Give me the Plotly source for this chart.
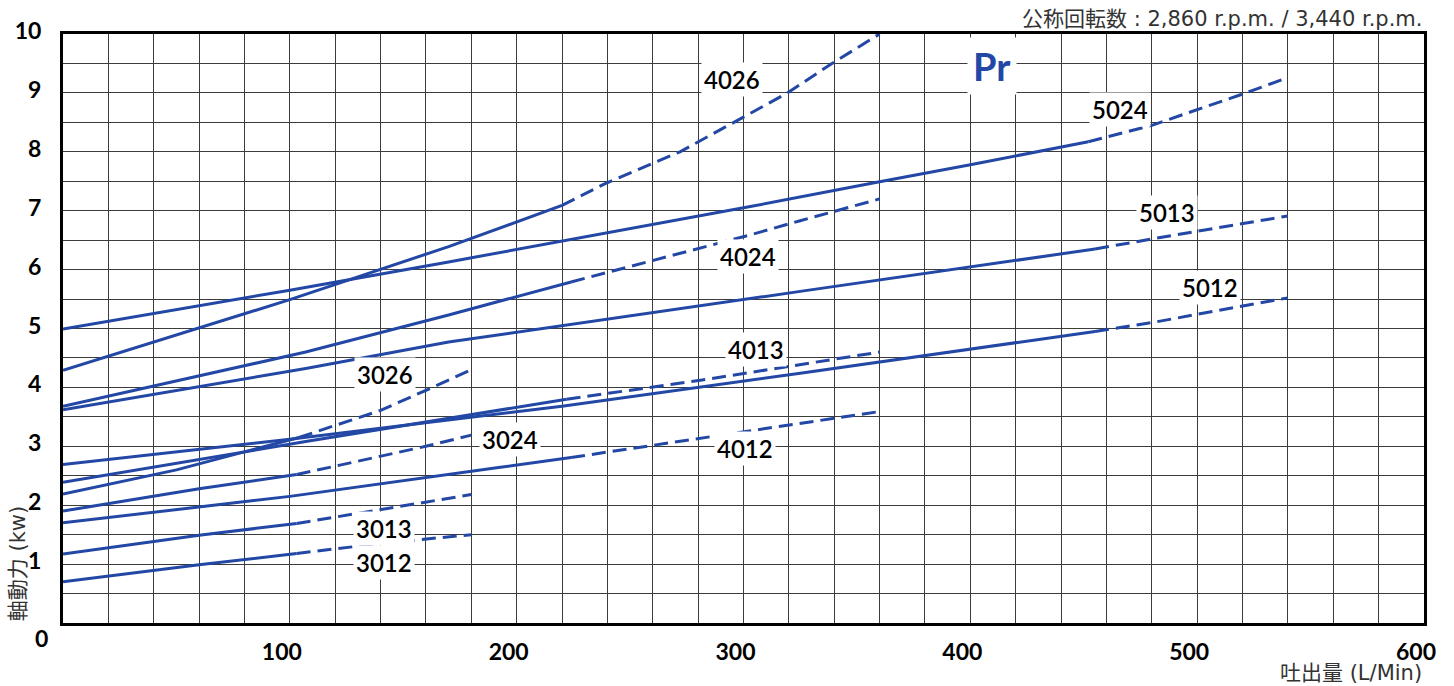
import plotly.graph_objects as go

# ---------------- data ----------------
# flow rate (L/Min) / shaft power (kW); solid = normal range, dashed = extended range
s3012_x = [0, 60, 103];            s3012_y = [0.70, 0.99, 1.18]
d3012_x = [103, 140, 180];         d3012_y = [1.18, 1.35, 1.50]
s3013_x = [0, 60, 103];            s3013_y = [1.17, 1.49, 1.69]
d3013_x = [103, 140, 180];         d3013_y = [1.69, 1.93, 2.18]
s3024_x = [0, 60, 103];            s3024_y = [1.90, 2.28, 2.52]
d3024_x = [103, 160, 180];         d3024_y = [2.52, 3.00, 3.19]
s3026_x = [0, 50, 104];            s3026_y = [2.19, 2.60, 3.15]
d3026_x = [104, 140, 160, 180];    d3026_y = [3.15, 3.61, 3.95, 4.30]

s4012_x = [0, 100, 192, 224];      s4012_y = [1.70, 2.15, 2.64, 2.81]
d4012_x = [224, 295, 360];         d4012_y = [2.81, 3.22, 3.59]
s4013_x = [0, 60, 107, 222];       s4013_y = [2.39, 2.78, 3.08, 3.80]
d4013_x = [222, 281, 360];         d4013_y = [3.80, 4.12, 4.60]
s4024_x = [0, 107, 170, 224];      s4024_y = [3.68, 4.60, 5.23, 5.79]
d4024_x = [224, 303, 325, 360];    d4024_y = [5.79, 6.59, 6.83, 7.20]
s4026_x = [0, 100, 170, 220];      s4026_y = [4.29, 5.49, 6.39, 7.09]
d4026_x = [220, 239, 272, 295, 319, 339, 360]
d4026_y = [7.09, 7.46, 8.00, 8.48, 8.99, 9.50, 10.0]

s5012_x = [0, 100, 220, 325, 455]; s5012_y = [2.69, 3.12, 3.68, 4.24, 4.95]
d5012_x = [455, 480, 540];         d5012_y = [4.95, 5.10, 5.52]
s5013_x = [0, 107, 170, 303, 325, 455]
s5013_y = [3.62, 4.32, 4.77, 5.50, 5.63, 6.35]
d5013_x = [455, 480, 540];         d5013_y = [6.35, 6.52, 6.91]
s5024_x = [0, 100, 170, 303, 360, 400, 452]
s5024_y = [4.99, 5.65, 6.13, 7.07, 7.49, 7.78, 8.17]
d5024_x = [452, 480, 520, 540];    d5024_y = [8.17, 8.45, 8.98, 9.26]

curve_names = ["3012", "3013", "3024", "3026", "4012", "4013", "4024", "4026",
               "5012", "5013", "5024"]
# label anchor positions (data coords)
label_x = [141.4, 141.4, 197.1, 141.9, 300.5, 305.3, 302.2, 294.8, 505.5, 486.5, 465.8]
label_y = [1.03, 1.61, 3.12, 4.22, 2.97, 4.65, 6.23, 9.22, 5.70, 6.97, 8.72]

x_ticks = [100, 200, 300, 400, 500, 600]
y_ticks = [1, 2, 3, 4, 5, 6, 7, 8, 9, 10]

title_text = "公称回転数 : 2,860 r.p.m. / 3,440 r.p.m."
x_title = "吐出量 (L/Min)"
y_title = "軸動力 (kw)"

# ---------------- figure ----------------
BLUE = "#2347A5"
solid = [(s3012_x, s3012_y), (s3013_x, s3013_y), (s3024_x, s3024_y), (s3026_x, s3026_y),
         (s4012_x, s4012_y), (s4013_x, s4013_y), (s4024_x, s4024_y), (s4026_x, s4026_y),
         (s5012_x, s5012_y), (s5013_x, s5013_y), (s5024_x, s5024_y)]
dashed = [(d3012_x, d3012_y), (d3013_x, d3013_y), (d3024_x, d3024_y), (d3026_x, d3026_y),
          (d4012_x, d4012_y), (d4013_x, d4013_y), (d4024_x, d4024_y), (d4026_x, d4026_y),
          (d5012_x, d5012_y), (d5013_x, d5013_y), (d5024_x, d5024_y)]

fig = go.Figure()
for name, (sx, sy), (dx, dy) in zip(curve_names, solid, dashed):
    fig.add_trace(go.Scatter(x=sx, y=sy, mode="lines", name=name,
                             line=dict(color=BLUE, width=3), showlegend=False,
                             hoverinfo="skip"))
    fig.add_trace(go.Scatter(x=dx, y=dy, mode="lines", name=name + " ext",
                             line=dict(color=BLUE, width=3, dash="14px,7px"),
                             showlegend=False, hoverinfo="skip"))

TICKFONT = dict(family="Lato", size=23, color="black", weight="bold")
LABELFONT = dict(family="Lato", size=24, color="black", weight=600)
CJK = "DejaVu Sans, Noto Sans CJK JP"

annotations = []
for name, lx, ly in zip(curve_names, label_x, label_y):
    annotations.append(dict(x=lx, y=ly, xref="x", yref="y", text=name, showarrow=False,
                            font=LABELFONT, bgcolor="white", borderpad=2))
annotations.append(dict(x=409.4, y=9.46, xref="x", yref="y", text="Pr", showarrow=False,
                        font=dict(family="Lato", size=38, color=BLUE, weight="bold"),
                        bgcolor="white", borderpad=5))
annotations.append(dict(x=1, y=1.025, xref="paper", yref="paper", text=title_text,
                        showarrow=False, xanchor="right", yanchor="middle",
                        font=dict(family=CJK, size=21, color="#333")))
annotations.append(dict(x=1, y=-0.0854, xref="paper", yref="paper", text=x_title,
                        showarrow=False, xanchor="right", yanchor="middle",
                        font=dict(family=CJK, size=21, color="#333")))
annotations.append(dict(x=-0.0333, y=0, xref="paper", yref="paper", text=y_title,
                        showarrow=False, xanchor="center", yanchor="bottom", textangle=-90,
                        font=dict(family=CJK, size=21, color="#333")))
annotations.append(dict(x=-0.0157, y=-0.026, xref="paper", yref="paper", text="0",
                        showarrow=False, xanchor="center", yanchor="middle", font=TICKFONT))

GRID = "#3c3c3c"
fig.update_layout(
    width=1454, height=686,
    margin=dict(l=63, r=30, t=34, b=63),
    paper_bgcolor="white", plot_bgcolor="white",
    annotations=annotations,
    xaxis=dict(range=[0, 600], tickvals=x_ticks, ticktext=[str(v) for v in x_ticks],
               showgrid=True, gridcolor=GRID, gridwidth=1.2,
               minor=dict(dtick=20, tick0=0, showgrid=True, gridcolor=GRID, gridwidth=1.2),
               showline=True, linecolor="black", linewidth=3, mirror=True,
               ticks="", tickfont=TICKFONT, ticklabelstandoff=6, ticklabelshift=-8,
               zeroline=False, fixedrange=True),
    yaxis=dict(range=[0, 10], tickvals=y_ticks, ticktext=[str(v) for v in y_ticks],
               showgrid=True, gridcolor=GRID, gridwidth=1.2,
               minor=dict(dtick=0.5, tick0=0, showgrid=True, gridcolor=GRID, gridwidth=1.2),
               showline=True, linecolor="black", linewidth=3, mirror=True,
               ticks="", tickfont=TICKFONT, ticklabelstandoff=14, ticklabelshift=-3,
               zeroline=False, fixedrange=True),
)

fig.write_html("out.html", config={"displayModeBar": False},
               post_script="document.body.style.margin='0';document.body.style.overflow='hidden';")
